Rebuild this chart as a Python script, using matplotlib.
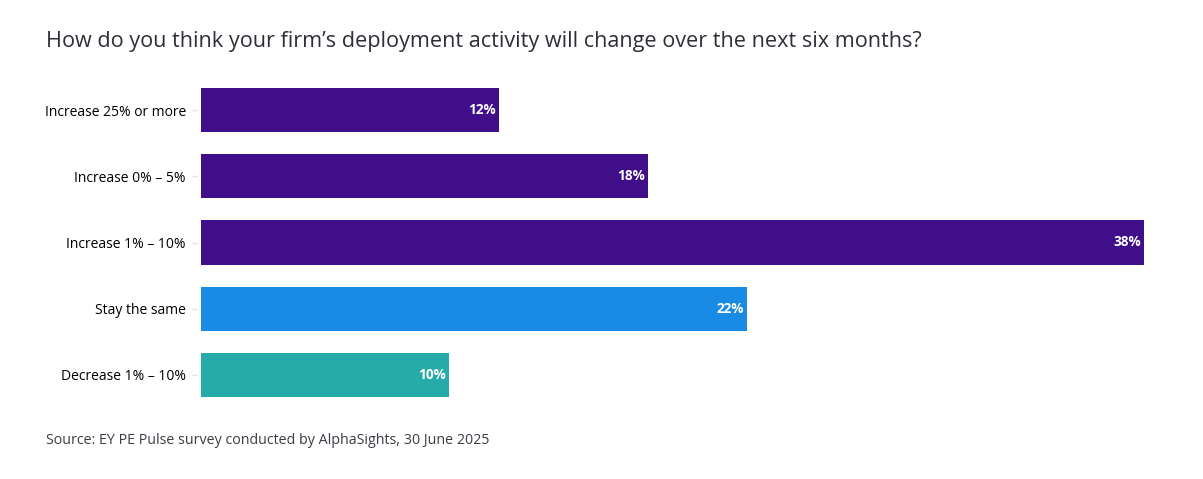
import matplotlib.pyplot as plt

plt.rcParams['font.family'] = ['Open Sans', 'DejaVu Sans']

categories = ['Increase 25% or more', 'Increase 0% – 5%', 'Increase 1% – 10%',
              'Stay the same', 'Decrease 1% – 10%']
values = [12, 18, 38, 22, 10]
colors = ['#3f0e88', '#3f0e88', '#3f0e88', '#1a8be5', '#26aba8']

title = 'How do you think your firm’s deployment activity will change over the next six months?'
source = 'Source: EY PE Pulse survey conducted by AlphaSights, 30 June 2025'

fig = plt.figure(figsize=(12.03, 4.79), dpi=100)
ax = fig.add_axes([201 / 1203, 1 - 408 / 479, (1144 - 201) / 1203, (408 - 77) / 479])

ypos = list(range(len(categories)))
ax.barh(ypos, values, height=0.67, color=colors)
ax.set_xlim(0, max(values))
ax.set_ylim(len(categories) - 0.5, -0.5)

for y, v in zip(ypos, values):
    ax.text(v - 0.12, y, f'{v}%', ha='right', va='center', color='white',
            fontsize=9.8, fontweight='bold')

ax.set_yticks(ypos)
ax.set_yticklabels(categories, fontsize=9.8, color='#2e2e38')
ax.spines['left'].set_position(('outward', 3))
ax.tick_params(axis='y', length=3.6, width=1, color='#e3e3e3', pad=4.3)
ax.set_xticks([])
for s in ax.spines.values():
    s.set_visible(False)

fig.text(46 / 1203, 1 - 42 / 479, title, fontsize=15.6, color='#2e2e38', va='center')
fig.text(46 / 1203, 1 - 440 / 479, source, fontsize=10.3, color='#3c3c46', va='center')

fig.savefig('out.png', dpi=100)
